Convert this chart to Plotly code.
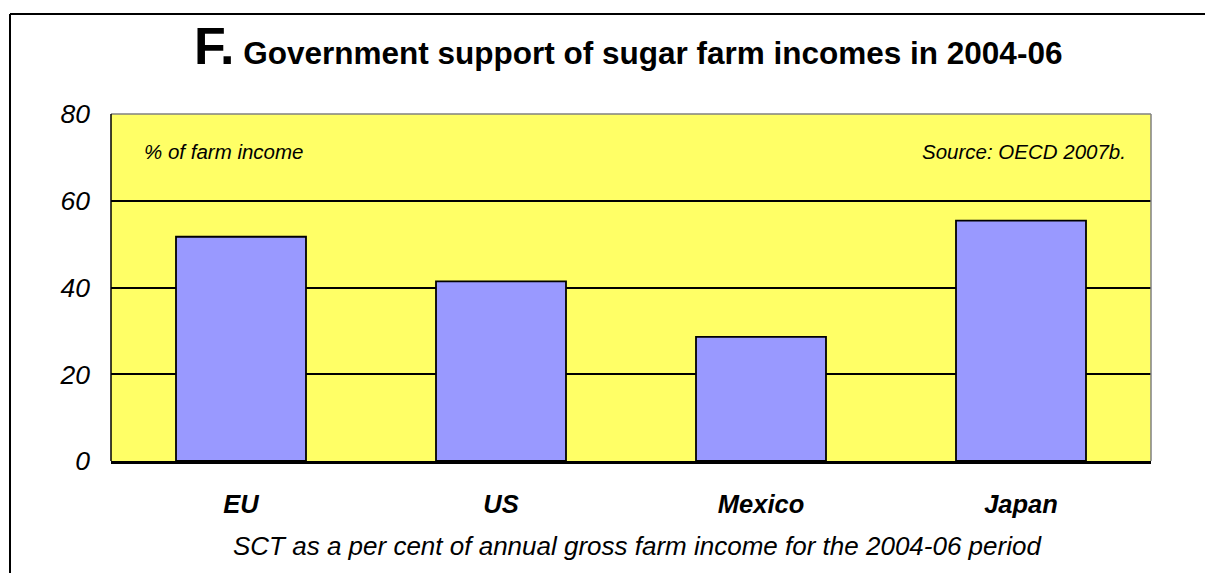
import plotly.graph_objects as go

categories = ["EU", "US", "Mexico", "Japan"]
values = [51.7, 41.4, 28.6, 55.4]
y_ticks = [0, 20, 40, 60, 80]

FONT = "Liberation Sans, Arial, sans-serif"

fig = go.Figure()
fig.add_trace(go.Bar(
    x=categories, y=values,
    marker=dict(color="#9999FF", line=dict(color="black", width=1.8)),
    showlegend=False,
))

fig.update_layout(
    width=1205, height=573,
    margin=dict(l=111, r=54, t=114, b=112),
    paper_bgcolor="white",
    plot_bgcolor="#FFFF66",
    bargap=0.5,
    font=dict(family=FONT, color="black"),
    xaxis=dict(
        showgrid=False, showline=True, linecolor="black", linewidth=3,
        ticks="", tickfont=dict(size=25.5, family=FONT, style="italic", weight="bold"),
        ticklabelstandoff=18,
    ),
    yaxis=dict(
        range=[0, 80], tickvals=y_ticks, showgrid=True, gridcolor="black", gridwidth=1.5,
        zeroline=False, showline=False, ticks="",
        tickfont=dict(size=26.5, family=FONT, style="italic"),
        ticklabelstandoff=20,
    ),
)

# plot border: top & right gray, left black
fig.add_shape(type="line", xref="paper", yref="paper", x0=0, x1=1, y0=1, y1=1,
              line=dict(color="#808080", width=1.5))
fig.add_shape(type="line", xref="paper", yref="paper", x0=1, x1=1, y0=0, y1=1,
              line=dict(color="#808080", width=1.5))
fig.add_shape(type="line", xref="paper", yref="paper", x0=0, x1=0, y0=0, y1=1,
              line=dict(color="black", width=1.5))

# outer frame (left and top edges visible)
pw = 1205 - 111 - 54
ph = 573 - 114 - 112
def px(xp):
    return (xp - 111) / pw
def py(yp):
    return (573 - 112 - yp) / ph

fig.add_shape(type="line", xref="paper", yref="paper", x0=px(10), x1=px(1210), y0=py(14), y1=py(14),
              line=dict(color="black", width=2))
fig.add_shape(type="line", xref="paper", yref="paper", x0=px(10), x1=px(10), y0=py(14), y1=py(580),
              line=dict(color="black", width=2))

fig.add_annotation(
    xref="paper", yref="paper", x=px(628), y=py(46), xanchor="center", yanchor="middle",
    text="<b><span style='font-size:52px'>F.</span> Government support of sugar farm incomes in 2004-06</b>",
    showarrow=False, font=dict(size=31.5, family=FONT, color="black"),
)
fig.add_annotation(
    xref="paper", yref="paper", x=px(142), y=py(151), xanchor="left", yanchor="middle",
    text="<i>% of farm income</i>", showarrow=False, font=dict(size=20.5, family=FONT),
)
fig.add_annotation(
    xref="paper", yref="paper", x=px(1128), y=py(151), xanchor="right", yanchor="middle",
    text="<i>Source: OECD 2007b.</i>", showarrow=False, font=dict(size=20.5, family=FONT),
)
fig.add_annotation(
    xref="paper", yref="paper", x=px(637), y=py(546), xanchor="center", yanchor="middle",
    text="<i>SCT as a per cent of annual gross farm income for the 2004-06 period</i>",
    showarrow=False, font=dict(size=26, family=FONT),
)

fig.write_html("out.html")
